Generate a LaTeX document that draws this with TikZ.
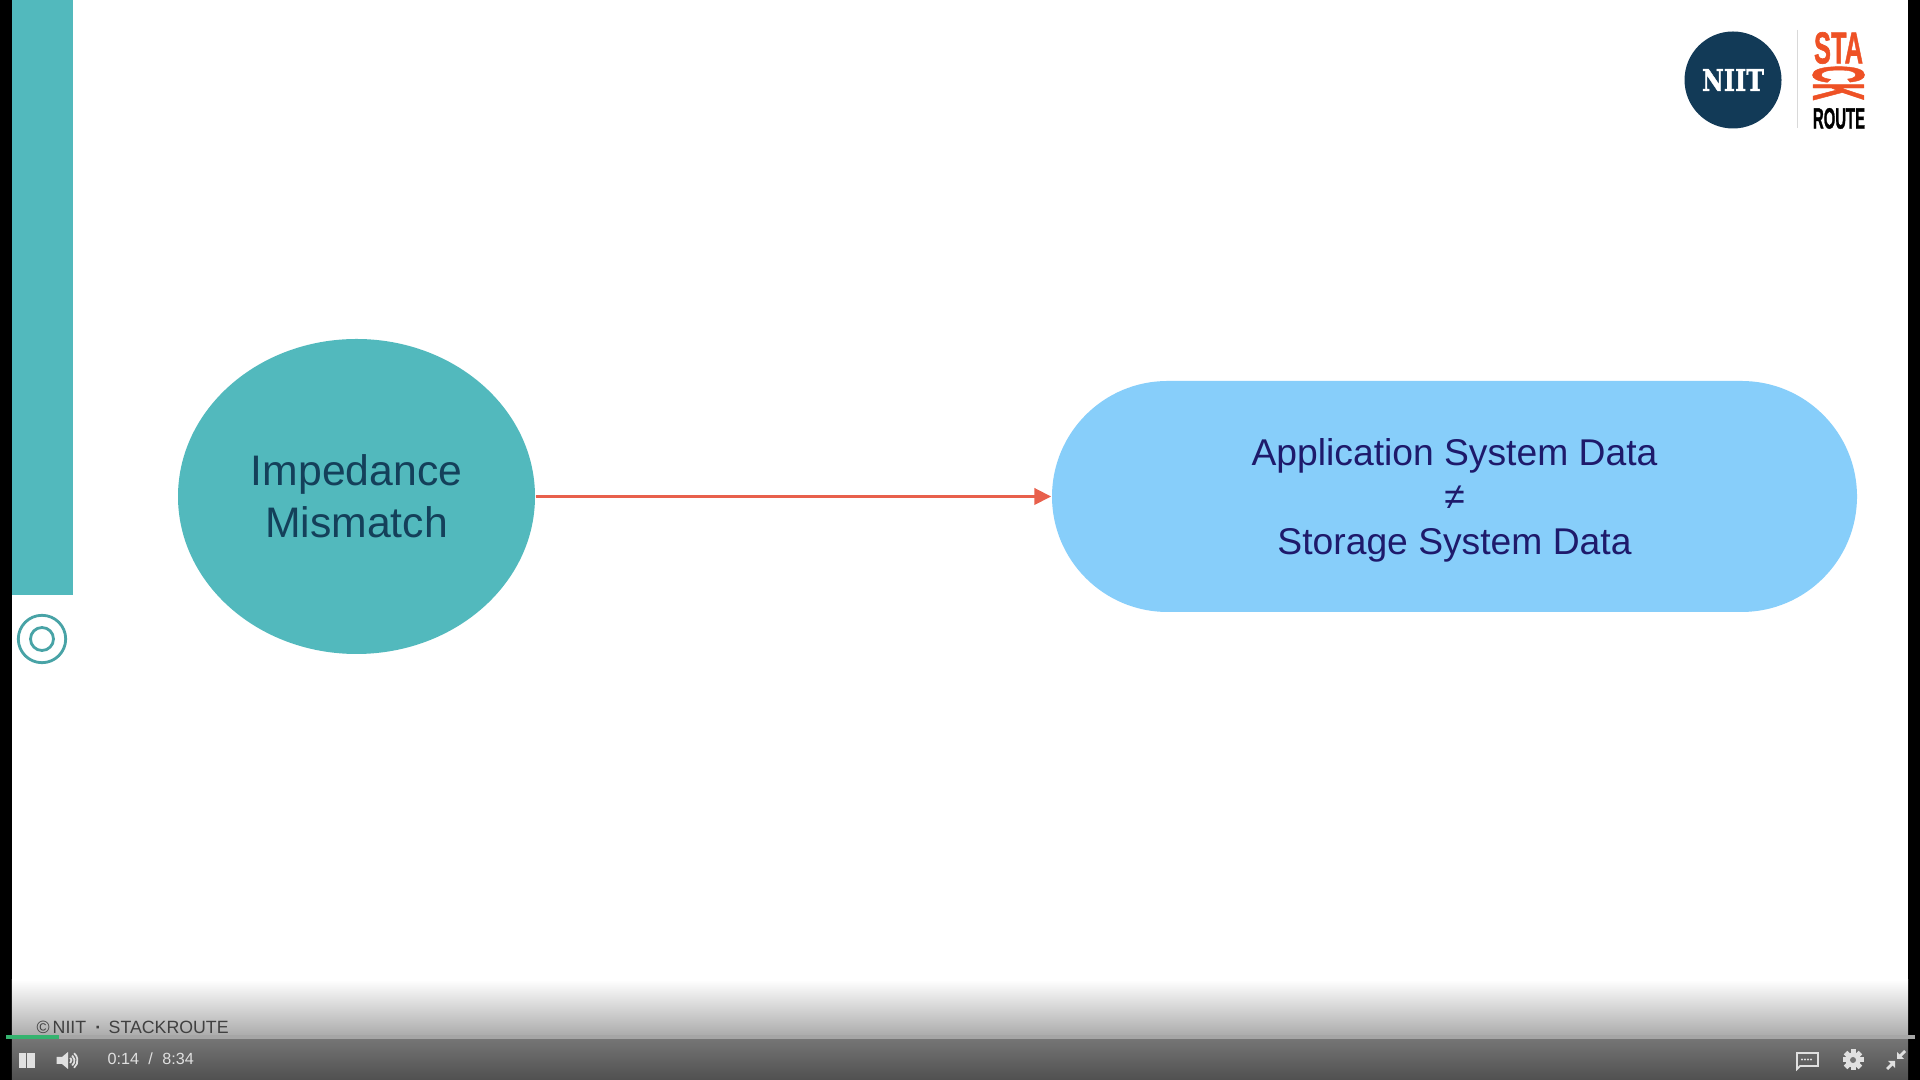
\documentclass[tikz,border=0pt]{standalone}
\usepackage{fontspec}
\setmainfont{Liberation Sans}
\newfontfamily\slabfont[BoldFeatures={FakeBold=1.5}]{DejaVu Serif}
\newfontfamily\logofont[BoldFeatures={FakeBold=1.5}]{Liberation Sans}
\usetikzlibrary{arrows.meta,positioning,shapes.geometric,shapes.misc}
\definecolor{tealbar}{HTML}{52B9BD}
\definecolor{skypill}{HTML}{87CEFA}
\definecolor{navytext}{HTML}{1E1A6B}
\definecolor{tealtext}{HTML}{14405A}
\definecolor{arrowred}{HTML}{E8604C}
\definecolor{niitblue}{HTML}{123A57}
\definecolor{stackred}{HTML}{EE5125}
\definecolor{playergray}{HTML}{E0E0E0}
\definecolor{trackgray}{HTML}{A6A6A6}
\definecolor{playgreen}{HTML}{35B36F}
\definecolor{fadegray}{HTML}{ACACAC}
\definecolor{barupper}{HTML}{757575}
\definecolor{barlower}{HTML}{505050}

\begin{document}
\begin{tikzpicture}[
  impedance/.style={ellipse,fill=tealbar,minimum width=3.57cm,minimum height=3.15cm,
                    inner sep=0pt,align=center,text=tealtext,font=\fontsize{12.15}{14.8}\selectfont},
  datapill/.style={rounded rectangle,fill=skypill,minimum width=8.05cm,minimum height=2.31cm,
                   inner sep=0pt,align=center,text=navytext,font=\fontsize{10.6}{12.66}\selectfont},
  logotxt/.style={inner sep=0pt},
  playertxt/.style={inner sep=0pt,text=playergray,font=\fontsize{4.6}{6}\selectfont},
  ring/.style={draw=tealbar!88!black,line width=0.8pt}]
\fill[black] (0,0) rectangle (19.2,10.8);
\fill[white] (0.12,0) rectangle (19.08,10.8);
\fill[tealbar] (0.12,4.85) rectangle (0.725,10.8);
\draw[ring] (0.42,4.41) circle (0.237);
\draw[ring] (0.42,4.41) circle (0.115);

\node[impedance] (mismatch) at (3.565,5.835) {Impedance\\Mismatch};
\node[datapill] (systemdata) at (14.545,5.835)
  {\rule{0pt}{9.7pt}Application System Data\\≠\\Storage System Data};
\draw[-{Triangle[length=1.7mm,width=1.6mm]},arrowred,line width=1.1pt] (mismatch) -- (systemdata);

% logo
\node[circle,fill=niitblue,minimum size=0.97cm,inner sep=0pt,text=white,
      font=\slabfont\bfseries\fontsize{8.5}{10}\selectfont] (niit) at (17.33,10) {\scalebox{.8}[1]{NIIT}};
\coordinate (ruletop) at (17.97,10.5);
\coordinate (rulebot) at (17.97,9.52);
\draw[black!15,line width=0.3pt] (ruletop) -- (rulebot);
\node[logotxt,text=stackred,xscale=.57,font=\logofont\bfseries\fontsize{12.7}{14}\selectfont] (sta) at (18.385,10.32) {STA};
\node[logotxt,text=stackred,rotate=-90,xscale=.33,font=\logofont\bfseries\fontsize{20.7}{22}\selectfont] (ck) at (18.385,9.97) {CK};
\node[logotxt,text=black,xscale=.51,font=\logofont\bfseries\fontsize{8.3}{9}\selectfont] (route) at (18.39,9.615) {ROUTE};

% player bar
\shade[top color=white,bottom color=fadegray] (0.12,0.45) rectangle (19.08,1);
\shade[top color=barupper,bottom color=barlower] (0.12,0) rectangle (19.08,0.41);
\node[inner sep=0pt,anchor=west,text=black!75,font=\fontsize{5.05}{6}\selectfont] (copyright) at (0.36,0.53)
  {\copyright\,NIIT\hspace{2.6pt}{\bfseries ·}\hspace{2.1pt}STACKROUTE};
\fill[trackgray] (0.06,0.41) rectangle (19.15,0.45);
\fill[playgreen] (0.06,0.41) rectangle (0.59,0.45);
\fill[playergray] (0.185,0.12) rectangle (0.26,0.27);
\fill[playergray] (0.275,0.12) rectangle (0.35,0.27);
\fill[playergray] (0.565,0.16) -- (0.62,0.16) -- (0.68,0.11) -- (0.68,0.28) -- (0.62,0.23) -- (0.565,0.23) -- cycle;
\foreach \r in {0.035,0.065,0.095}
  \draw[playergray,line width=0.5pt] (0.68,0.195)++(-50:\r) arc (-50:50:\r);
\node[playertxt,anchor=west] (clock) at (1.07,0.21) {0:14\hspace{2.65pt}/\hspace{2.65pt}8:34};
\draw[playergray,line width=0.5pt] (17.97,0.14) -- (17.97,0.11) -- (18,0.14) -- (18.18,0.14) -- (18.18,0.27) -- (17.97,0.27) -- cycle;
\foreach \x in {18.02,18.05,18.08,18.11}
  \fill[playergray] (\x,0.205) circle (0.012);
\foreach \a in {0,45,...,315}
  \fill[playergray,rotate around={\a:(18.53,0.2)}] (18.505,0.2) rectangle (18.555,0.305);
\fill[playergray] (18.53,0.2) circle (0.075);
\fill[barupper] (18.53,0.2) circle (0.03);
\draw[playergray,line width=0.8pt] (18.87,0.11) -- (18.93,0.17);
\draw[playergray,line width=0.8pt] (19.05,0.29) -- (18.99,0.23);
\fill[playergray] (18.95,0.19) -- (18.88,0.19) -- (18.95,0.12) -- cycle;
\fill[playergray] (18.97,0.21) -- (19.04,0.21) -- (18.97,0.28) -- cycle;
\end{tikzpicture}
\end{document}
